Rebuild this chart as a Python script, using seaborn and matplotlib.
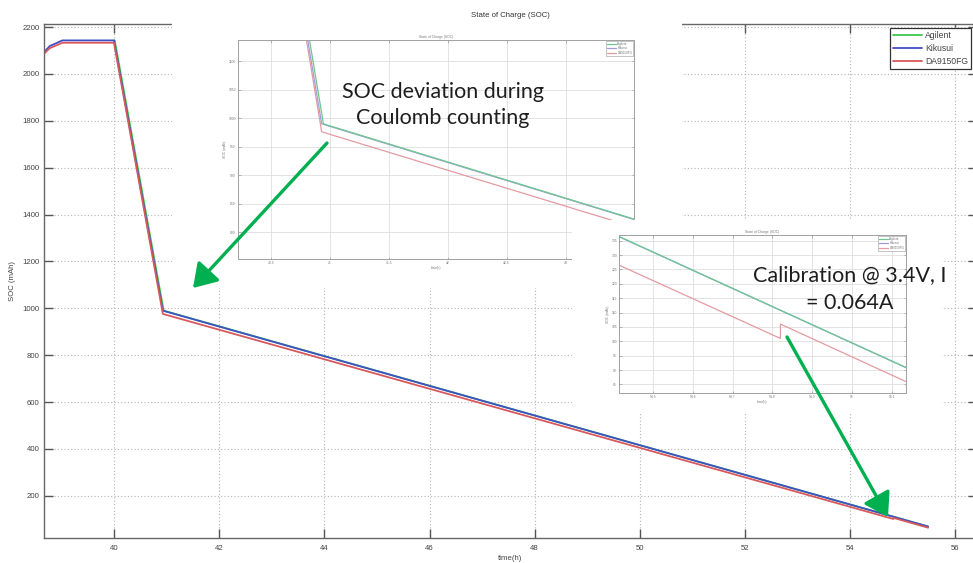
import matplotlib
matplotlib.use("Agg")
import matplotlib.pyplot as plt
from matplotlib.patches import Rectangle, FancyArrowPatch
import seaborn as sns
import pandas as pd

# ---- data -------------------------------------------------------------
series_names = ["Agilent", "Kikusui", "DA9150FG"]

agilent_t = [40.00, 40.015, 40.945, 55.48]
agilent_soc = [2143, 2143, 990, 69]

kikusui_t = [38.67, 38.78, 39.02, 40.00, 40.93, 55.48]
kikusui_soc = [2093, 2119, 2143, 2143, 990, 69]

da9150_t = [38.67, 38.78, 39.02, 40.00, 40.93, 54.82, 54.82, 55.48]
da9150_soc = [2086, 2110, 2133, 2133, 976, 101, 106, 64]

main_xticks = [40, 42, 44, 46, 48, 50, 52, 54, 56]
main_yticks = [200, 400, 600, 800, 1000, 1200, 1400, 1600, 1800, 2000, 2200]

zoom1_xticks = [40.5, 41, 41.5, 42, 42.5, 43]
zoom1_yticks = [800, 850, 900, 950, 1000, 1050, 1100]
zoom2_xticks = [54.5, 54.6, 54.7, 54.8, 54.9, 55.0, 55.1]
zoom2_yticks = [85, 90, 95, 100, 105, 110, 115, 120, 125, 130, 135]

note_coulomb = "SOC deviation during\nCoulomb counting"
note_calib = "Calibration @ 3.4V, I\n= 0.064A"

frames = []
for name, t, s in [("Agilent", agilent_t, agilent_soc),
                   ("Kikusui", kikusui_t, kikusui_soc),
                   ("DA9150FG", da9150_t, da9150_soc)]:
    frames.append(pd.DataFrame({"time": t, "soc": s, "source": name}))
df = pd.concat(frames, ignore_index=True)

main_colors = {"Agilent": "#3cc84a", "Kikusui": "#4050c4", "DA9150FG": "#d8585c"}
light_colors = {"Agilent": "#6cc88e", "Kikusui": "#a09ad8", "DA9150FG": "#e49aa2"}
# in the zoomed views the Agilent trace sits on top of Kikusui
zoom_order = {"Agilent": 3, "Kikusui": 2, "DA9150FG": 2}

# ---- figure -----------------------------------------------------------
sns.set_style("ticks")
plt.rcParams["font.family"] = ["Liberation Sans", "DejaVu Sans"]

W, H = 973, 563
fig = plt.figure(figsize=(W / 100, H / 100), dpi=100)
fig.patch.set_facecolor("white")


def box(left, top, right, bottom):
    return [left / W, 1 - bottom / H, (right - left) / W, (bottom - top) / H]


def fpt(x, y):
    return (x / W, 1 - y / H)


# main axes
ax = fig.add_axes(box(44, 24, 977, 538))
for name in series_names:
    sub = df[df["source"] == name]
    sns.lineplot(data=sub, x="time", y="soc", ax=ax, color=main_colors[name],
                 lw=1.3, estimator=None, sort=False, label=name)

ax.set_xlim(38.67, 56.41)
ax.set_ylim(20, 2213)
ax.set_xticks(main_xticks)
ax.set_yticks(main_yticks)
ax.grid(True, color="#b5b5b5", lw=0.8, linestyle=(0, (1, 2)))
ax.tick_params(direction="in", length=6.5, width=1.0, color="#555555",
               labelsize=5.6, labelcolor="#444444", top=True, right=True,
               pad=3)
ax.tick_params(axis="x", pad=5)
for sp in ax.spines.values():
    sp.set_color("#666666")
    sp.set_linewidth(1.0)
ax.set_title("State of Charge (SOC)", fontsize=5.6, color="#333333", pad=5)
ax.set_xlabel("time(h)", fontsize=5.6, color="#444444", labelpad=2)
ax.set_ylabel("SOC (mAh)", fontsize=5.6, color="#444444", labelpad=5)
leg = ax.legend(loc="upper right", bbox_to_anchor=fpt(971, 28),
                bbox_transform=fig.transFigure, fontsize=6.2, frameon=True,
                fancybox=False, edgecolor="#333333", framealpha=1,
                handlelength=3.4, handletextpad=0.3, labelspacing=0.45,
                borderpad=0.35, borderaxespad=0)
leg.get_frame().set_linewidth(0.9)
for txt in leg.get_texts():
    txt.set_color("#444444")

# white panels behind the zoomed views
fig.add_artist(Rectangle((172 / W, 1 - 288 / H), (682 - 172) / W, (288 - 21) / H,
                         transform=fig.transFigure, facecolor="white",
                         edgecolor="none", zorder=1))


def zoom_axes(rect, xlim, ylim, xticks, yticks, z):
    a = fig.add_axes(rect)
    a.set_zorder(z)
    for name in series_names:
        sub = df[df["source"] == name]
        sns.lineplot(data=sub, x="time", y="soc", ax=a, color=light_colors[name],
                     lw=0.9, estimator=None, sort=False, label=name,
                     zorder=zoom_order[name])
    a.set_xlim(*xlim)
    a.set_ylim(*ylim)
    a.set_xticks(xticks)
    a.set_xticklabels([f"{v:g}" for v in xticks])
    a.set_yticks(yticks)
    a.grid(True, color="#dedede", lw=0.6)
    a.tick_params(direction="in", length=1.8, width=0.5, color="#999999",
                  labelsize=2.4, labelcolor="#777777", pad=1.5,
                  top=True, right=True)
    for sp in a.spines.values():
        sp.set_color("#a0a0a0")
        sp.set_linewidth(0.7)
    a.set_title("State of Charge (SOC)", fontsize=2.4, color="#777777", pad=1.5)
    a.set_xlabel("time(h)", fontsize=2.4, color="#777777", labelpad=1)
    a.set_ylabel("SOC (mAh)", fontsize=2.4, color="#777777", labelpad=1)
    lg = a.legend(loc="upper right", fontsize=2.2, frameon=True, fancybox=False,
                  edgecolor="#999999", framealpha=1, handlelength=3,
                  handletextpad=0.4, labelspacing=0.2, borderpad=0.3,
                  borderaxespad=0.3)
    lg.get_frame().set_linewidth(0.4)
    for txt in lg.get_texts():
        txt.set_color("#777777")
    return a


zoom_axes(box(238, 40, 634, 259), (40.22, 43.58), (753, 1137),
          zoom1_xticks, zoom1_yticks, 2)

fig.add_artist(Rectangle((572 / W, 1 - 413 / H), (942 - 572) / W, (413 - 220) / H,
                         transform=fig.transFigure, facecolor="white",
                         edgecolor="none", zorder=3))

zoom_axes(box(619, 235, 906, 393), (54.415, 55.135), (82, 137),
          zoom2_xticks, zoom2_yticks, 4)

# callouts
for tail, tip in [((327, 143), (193, 288)), ((787, 337), (888, 517))]:
    fig.add_artist(FancyArrowPatch(fpt(*tail), fpt(*tip),
                                   transform=fig.transFigure,
                                   arrowstyle="-|>,head_length=0.7,head_width=0.45",
                                   mutation_scale=20, color="#00b050", lw=2.4,
                                   shrinkA=0, shrinkB=0, zorder=6))

fig.text(*fpt(443, 105), note_coulomb, ha="center", va="center",
         fontsize=15.5, family=["Lato", "DejaVu Sans"], color="#1e1e1e",
         linespacing=1.38, zorder=6)
fig.text(*fpt(850, 289), note_calib, ha="center", va="center",
         fontsize=15.5, family=["Lato", "DejaVu Sans"], color="#1e1e1e",
         linespacing=1.5, zorder=6)

fig.savefig("out.png", dpi=100, facecolor="white")
